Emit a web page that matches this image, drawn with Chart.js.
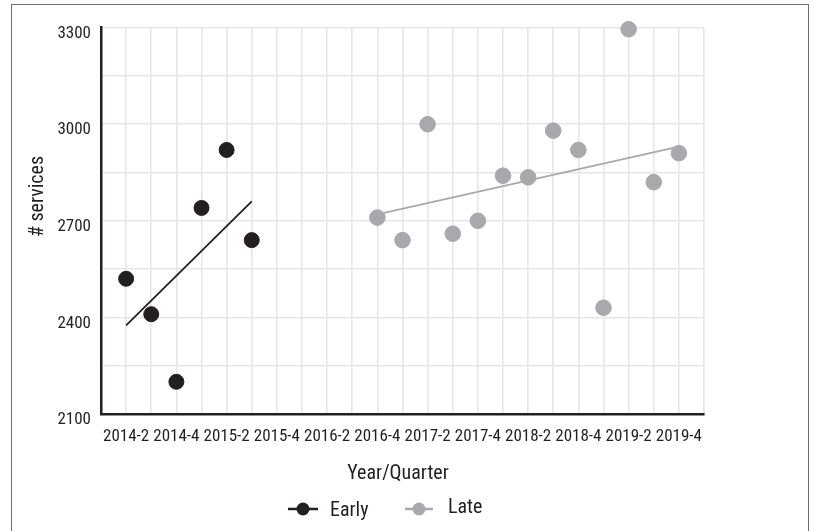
<!DOCTYPE html>
<html>
<head>
<meta charset="utf-8">
<script src="https://cdn.jsdelivr.net/npm/chart.js@4/dist/chart.umd.min.js"></script>
<style>
  html, body { margin: 0; padding: 0; background: #ffffff; }
  #wrap { position: relative; width: 814px; height: 531px; overflow: hidden; }
  #frame { position: absolute; left: 11px; top: 4px; width: 796px; height: 560px; border: 1px solid #6e6e6e; pointer-events: none; }
  canvas { position: absolute; left: 0; top: 0; }
</style>
</head>
<body>
<div id="wrap">
  <canvas id="c" width="814" height="531"></canvas>
  <div id="frame"></div>
</div>
<script>
// ---- data ----
const quarters = ['2014-1','2014-2','2014-3','2014-4','2015-1','2015-2','2015-3','2015-4',
  '2016-1','2016-2','2016-3','2016-4','2017-1','2017-2','2017-3','2017-4',
  '2018-1','2018-2','2018-3','2018-4','2019-1','2019-2','2019-3','2019-4','2020-1'];
const earlyQuarters = ['2014-2','2014-3','2014-4','2015-1','2015-2','2015-3'];
const earlyValues   = [2520, 2410, 2200, 2740, 2920, 2640];
const lateQuarters  = ['2016-4','2017-1','2017-2','2017-3','2017-4','2018-1','2018-2',
  '2018-3','2018-4','2019-1','2019-2','2019-3','2019-4'];
const lateValues    = [2710, 2640, 3000, 2660, 2700, 2840, 2835, 2980, 2920, 2430, 3295, 2820, 2910];
const earlyTrendQuarters = ['2014-2','2015-3'];
const earlyTrendValues   = [2375, 2760];
const lateTrendQuarters  = ['2016-4','2019-4'];
const lateTrendValues    = [2720, 2930];
const yTicks = [2100, 2400, 2700, 3000, 3300];
const seriesNames = ['Early', 'Late'];
const xTitle = 'Year/Quarter';
const yTitle = '# services';

const BLACK = '#231f20';
const GREY = '#a7a9ac';
const FONT = "'Liberation Sans Narrow', 'Arial Narrow', 'Roboto Condensed', sans-serif";

const pts = (qs, vs) => qs.map((q, i) => ({x: q, y: vs[i]}));

const overlay = {
  id: 'overlay',
  afterDraw(chart) {
    const ctx = chart.ctx;
    ctx.save();
    ctx.fillStyle = BLACK;
    // x title
    ctx.font = '20px ' + FONT;
    ctx.textAlign = 'center';
    ctx.textBaseline = 'alphabetic';
    ctx.fillText(xTitle, 398, 479);
    // y title
    ctx.save();
    ctx.translate(43, 196.5);
    ctx.rotate(-Math.PI / 2);
    ctx.fillText(yTitle, 0, 0);
    ctx.restore();
    // legend
    const items = [
      {name: seriesNames[0], color: BLACK, x0: 288, x1: 318, tx: 330, base: 516},
      {name: seriesNames[1], color: GREY, x0: 405, x1: 433, tx: 448, base: 513}
    ];
    ctx.textAlign = 'left';
    items.forEach(it => {
      ctx.strokeStyle = it.color;
      ctx.lineWidth = 2.5;
      ctx.beginPath();
      ctx.moveTo(it.x0, 509);
      ctx.lineTo(it.x1, 509);
      ctx.stroke();
      ctx.fillStyle = it.color;
      ctx.beginPath();
      ctx.arc((it.x0 + it.x1) / 2, 509, 6.5, 0, Math.PI * 2);
      ctx.fill();
      ctx.fillStyle = BLACK;
      ctx.fillText(it.name, it.tx, it.base);
    });
    ctx.restore();
  }
};

new Chart(document.getElementById('c'), {
  type: 'scatter',
  data: {
    labels: quarters,
    datasets: [
      {label: seriesNames[0], data: pts(earlyQuarters, earlyValues), backgroundColor: BLACK, borderColor: BLACK,
       pointRadius: 7.5, pointHoverRadius: 7.5, showLine: false, clip: false, order: 1},
      {label: seriesNames[1], data: pts(lateQuarters, lateValues), backgroundColor: GREY, borderColor: GREY,
       pointRadius: 7.8, pointHoverRadius: 7.8, showLine: false, clip: false, order: 1},
      {label: 'Early trend', data: pts(earlyTrendQuarters, earlyTrendValues), type: 'line', borderColor: BLACK,
       borderWidth: 1.8, pointRadius: 0, fill: false, clip: false, order: 0},
      {label: 'Late trend', data: pts(lateTrendQuarters, lateTrendValues), type: 'line', borderColor: GREY,
       borderWidth: 1.8, pointRadius: 0, fill: false, clip: false, order: 0}
    ]
  },
  options: {
    responsive: false,
    animation: false,
    events: [],
    layout: { padding: { left: 0, right: 110, top: 27.6, bottom: 0 } },
    plugins: { legend: { display: false }, tooltip: { enabled: false } },
    scales: {
      x: {
        type: 'category',
        labels: quarters,
        offset: false,
        afterFit(scale) { scale.height = 117; },
        grid: { color: '#e6e6e8', lineWidth: 1.6, drawTicks: false },
        border: { color: BLACK, width: 2.5 },
        ticks: {
          autoSkip: false, maxRotation: 0, minRotation: 0, padding: 13,
          color: BLACK, font: { family: FONT, size: 17 },
          callback(val, idx) { return idx % 2 === 1 ? quarters[idx] : ''; }
        }
      },
      y: {
        type: 'linear',
        min: yTicks[0], max: yTicks[yTicks.length - 1],
        afterFit(scale) { scale.width = 101; },
        grid: { color: '#e6e6e8', lineWidth: 1.6, drawTicks: false },
        border: { color: BLACK, width: 2.5 },
        ticks: {
          stepSize: 150, padding: 10, labelOffset: 6,
          color: BLACK, font: { family: FONT, size: 17 },
          callback(v) { return yTicks.includes(v) ? String(v) : ''; }
        }
      }
    }
  },
  plugins: [overlay]
});
</script>
</body>
</html>
